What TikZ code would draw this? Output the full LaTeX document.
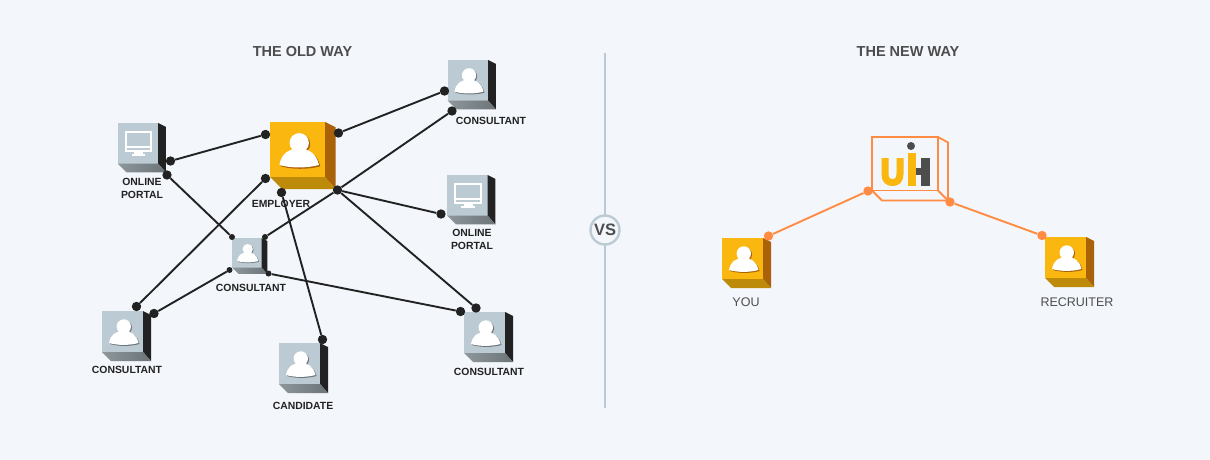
\documentclass[tikz,border=0pt]{standalone}
\usepackage{fontspec}
\setmainfont{Liberation Sans}
\usetikzlibrary{arrows.meta}

\definecolor{pagebg}{HTML}{F3F6FB}
\definecolor{inkdark}{HTML}{222222}
\definecolor{headgray}{HTML}{4D4D4D}
\definecolor{logoorange}{HTML}{FF8C42}
\definecolor{yellowface}{HTML}{F9B710}
\definecolor{yellowside}{HTML}{A96207}
\definecolor{yellowbase}{HTML}{BE8A0A}
\definecolor{grayface}{HTML}{BCCBD3}
\definecolor{graybasea}{HTML}{8D979C}
\definecolor{graybaseb}{HTML}{6C7478}

\tikzset{
  bigdot/.style={circle, fill=inkdark, inner sep=0pt, minimum size=9.4pt},
  smalldot/.style={circle, fill=inkdark, inner sep=0pt, minimum size=6pt},
  orangedot/.style={circle, fill=logoorange, inner sep=0pt, minimum size=9.4pt},
  oldlink/.style={draw=inkdark, line width=1.9pt},
  newlink/.style={draw=logoorange, line width=1.9pt},
  boxlabel/.style={font=\fontsize{10.4}{13}\selectfont\bfseries, text=inkdark, align=center, inner sep=0pt},
  newlabel/.style={font=\fontsize{12.5}{15}\selectfont, text=headgray, inner sep=0pt},
  waytitle/.style={font=\fontsize{14.5}{16}\selectfont\bfseries, text=headgray, inner sep=0pt}
}

% person on a box, drawn on a 41 unit face
\newcommand{\personshape}{
  (21.8,15.5) circle (7.2)
  (7,32) .. controls (8.5,24) and (13,20) .. (21.8,20) .. controls (30,20) and (34.5,24) .. (36.5,32) .. controls (28,34.5) and (15,34.5) .. (7,32) -- cycle
}
\newcommand{\personicon}[1]{
  \begin{scope}[shift={(1,1)}]
    \fill[#1] \personshape;
  \end{scope}
  \fill[white, nonzero rule] \personshape;
}

% screen on a box
\newcommand{\screenicon}{
  \fill[white] (7.5,8) rectangle (35,29);
  \fill[grayface] (9.5,10) rectangle (33,23.5);
  \fill[grayface] (9.5,25) rectangle (33,27);
  \fill[white] (17,29) rectangle (26,31.5);
  \fill[white] (14.5,31.5) rectangle (28,33);
}

% box: x, y, face size, face, side, base left, base right, content
\newcommand{\cubebox}[8]{
  \begin{scope}[shift={(#1,#2)}, scale=#3/41]
    \fill[#4] (0,0) rectangle (41,41);
    \fill[#5] (41,0) -- (49,4) -- (49,50) -- (41,41) -- cycle;
    \shade[left color=#6, right color=#7] (0,41) -- (9,50) -- (49,50) -- (41,41) -- cycle;
    #8
  \end{scope}
}
\newcommand{\graybox}[4]{\cubebox{#1}{#2}{#3}{grayface}{inkdark}{graybasea}{graybaseb}{#4}}
\newcommand{\yellowbox}[3]{\cubebox{#1}{#2}{#3}{yellowface}{yellowside}{yellowbase}{yellowbase}{\personicon{yellowside}}}

\begin{document}
\begin{tikzpicture}[x=1pt, y=-1pt]
  \fill[pagebg] (0,0) rectangle (1210,460);
  \useasboundingbox (0,0) rectangle (1210,460);

  % titles
  \node[waytitle] (oldtitle) at (302.5,52) {THE OLD WAY};
  \node[waytitle] (newtitle) at (908,52) {THE NEW WAY};

  % divider
  \coordinate (divtop) at (604.5,53);
  \coordinate (divend) at (604.5,408);
  \draw[grayface, line width=2pt] (divtop) -- (divend);
  \node[circle, draw=grayface, fill=pagebg, line width=2.4pt, minimum size=29pt, inner sep=0pt,
        font=\fontsize{16.5}{18}\selectfont\bfseries, text=headgray] (vs) at (605,230) {VS};

  % boxes of the old way
  \yellowbox{270}{122}{55}
  \graybox{117.5}{123}{40.5}{\screenicon}
  \graybox{447.5}{60}{40.5}{\personicon{graybaseb}}
  \graybox{447}{175}{40.5}{\screenicon}
  \graybox{232}{238}{29.5}{\personicon{graybaseb}}
  \graybox{102}{311}{41}{\personicon{graybaseb}}
  \graybox{279}{343}{41}{\personicon{graybaseb}}
  \graybox{464}{312}{41}{\personicon{graybaseb}}

  \node[boxlabel] (lblportala) at (142,188.5) {ONLINE\\PORTAL};
  \node[boxlabel] (lblemployer) at (281,204) {EMPLOYER};
  \node[boxlabel] (lblconsa) at (491,121) {CONSULTANT};
  \node[boxlabel] (lblportalb) at (472,239.5) {ONLINE\\PORTAL};
  \node[boxlabel] (lblconsb) at (251,287.5) {CONSULTANT};
  \node[boxlabel] (lblconsc) at (127,370) {CONSULTANT};
  \node[boxlabel] (lblcand) at (303,405.5) {CANDIDATE};
  \node[boxlabel] (lblconsd) at (489,372) {CONSULTANT};

  % dots of the old way
  \node[bigdot] (pa1) at (170.5,161) {};
  \node[bigdot] (pa2) at (167,175) {};
  \node[bigdot] (em1) at (265.5,134.5) {};
  \node[bigdot] (em2) at (338.5,133) {};
  \node[bigdot] (em3) at (265.5,178.5) {};
  \node[bigdot] (em4) at (281.5,192.5) {};
  \node[bigdot] (em5) at (337.5,190) {};
  \node[bigdot] (ca1) at (444.5,91) {};
  \node[bigdot] (ca2) at (452,111) {};
  \node[bigdot] (pb1) at (441,214) {};
  \node[smalldot] (cb1) at (232,237) {};
  \node[smalldot] (cb2) at (265,237) {};
  \node[smalldot] (cb3) at (229.5,270) {};
  \node[smalldot] (cb4) at (268.5,273.5) {};
  \node[bigdot] (cc1) at (136.5,306.5) {};
  \node[bigdot] (cc2) at (154,313.5) {};
  \node[bigdot] (cn1) at (322.5,339.5) {};
  \node[bigdot] (cd1) at (476,308) {};
  \node[bigdot] (cd2) at (460.5,311.5) {};

  % links of the old way
  \draw[oldlink] (pa1) -- (em1);
  \draw[oldlink] (pa2) -- (cb1);
  \draw[oldlink] (em2) -- (ca1);
  \draw[oldlink] (em3) -- (cc1);
  \draw[oldlink] (em4) -- (cn1);
  \draw[oldlink] (ca2) -- (em5) -- (cb2);
  \draw[oldlink] (em5) -- (pb1);
  \draw[oldlink] (em5) -- (cd1);
  \draw[oldlink] (cb3) -- (cc2);
  \draw[oldlink] (cb4) -- (cd2);

  % logo box
  \draw[logoorange, line width=1.8pt] (872,137) rectangle (938,190.5);
  \draw[logoorange, line width=1.8pt] (938,137) -- (948,142.5) -- (948,200.5) -- (882,200.5) -- (872,190.5);
  \draw[logoorange, line width=1.8pt] (938,190.5) -- (948,200.5);
  \draw[yellowface, line width=7pt] (885,158) -- (885,174) .. controls (885,180) and (888,182.5) .. (892.5,182.5) .. controls (897,182.5) and (900,180) .. (900,174) -- (900,158);
  \fill[yellowface] (908,153) rectangle (916,185.5);
  \fill[headgray] (921,158) rectangle (930,186);
  \fill[headgray] (916,168) rectangle (921,175);
  \fill[headgray] (911,146) circle (4);

  % boxes of the new way
  \yellowbox{722}{238}{41}
  \yellowbox{1045}{237}{41}
  \node[newlabel] (lblyou) at (746,302) {YOU};
  \node[newlabel] (lblrec) at (1077,302) {RECRUITER};

  % links of the new way
  \node[orangedot] (ya) at (768.5,236) {};
  \node[orangedot] (ua) at (868,191) {};
  \node[orangedot] (ub) at (950,202) {};
  \node[orangedot] (ra) at (1042,235.5) {};
  \draw[newlink] (ya) -- (ua);
  \draw[newlink] (ub) -- (ra);
\end{tikzpicture}
\end{document}
